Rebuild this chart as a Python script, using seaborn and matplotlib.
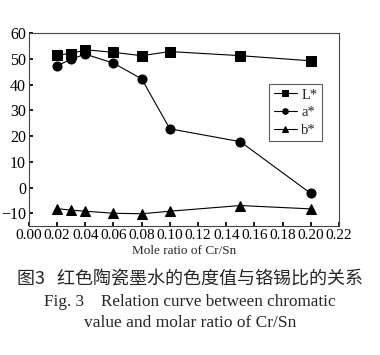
import numpy as np
import pandas as pd
import matplotlib
matplotlib.use("Agg")
import matplotlib.pyplot as plt
from matplotlib.ticker import MultipleLocator
import seaborn as sns

sns.set_theme(style="white")
plt.rcParams["font.family"] = ["Liberation Serif", "Noto Sans CJK SC", "DejaVu Sans"]

ratio = [0.02, 0.03, 0.04, 0.06, 0.08, 0.10, 0.15, 0.20]
L_star = [51.5, 52.0, 53.5, 52.5, 51.2, 52.8, 51.2, 49.2]
a_star = [47.3, 49.8, 51.8, 48.3, 42.2, 22.8, 17.8, -2.3]
b_star = [-8.2, -8.8, -9.2, -10.0, -10.2, -9.2, -7.0, -8.3]

df = pd.DataFrame({"ratio": ratio, "L*": L_star, "a*": a_star, "b*": b_star})
long_df = df.melt(id_vars="ratio", var_name="param", value_name="value")

fig = plt.figure(figsize=(3.8, 3.55), dpi=100)
ax = fig.add_axes([0.076, 0.363, 0.816, 0.544])

sns.lineplot(data=long_df, x="ratio", y="value", style="param",
             markers={"L*": "s", "a*": "o", "b*": "^"}, dashes=False,
             color="black", linewidth=0.8, markersize=6.5,
             markeredgecolor="black", ax=ax)

ax.set_xlim(0, 0.22)
ax.set_ylim(-15, 60)
ax.xaxis.set_major_locator(MultipleLocator(0.02))
ax.yaxis.set_major_locator(MultipleLocator(10))
ax.yaxis.set_minor_locator(MultipleLocator(5))
ax.xaxis.set_minor_locator(MultipleLocator(0.01))
ax.set_xticklabels([f"{v:.2f}" for v in ax.get_xticks()])
ax.tick_params(axis="both", which="major", direction="in", length=3,
               pad=2, colors="black")
ax.tick_params(axis="x", labelsize=11)
ax.tick_params(axis="y", labelsize=11.5)
ax.tick_params(axis="both", which="minor", direction="in", length=1.5)
ax.tick_params(axis="x", bottom=True)
ax.tick_params(axis="y", left=True)
for s in ax.spines.values():
    s.set_color("#444444")
    s.set_linewidth(0.8)
ax.set_xlabel("Mole ratio of Cr/Sn", fontsize=9.5, labelpad=2)
ax.set_ylabel("")

leg = ax.legend(loc="upper left", bbox_to_anchor=(0.775, 0.736), fontsize=10.5,
                frameon=True, fancybox=False, edgecolor="#333333",
                handlelength=1.6, handletextpad=0.3, borderpad=0.3,
                labelspacing=0.3, borderaxespad=0)
leg.get_frame().set_linewidth(0.8)
for h in leg.legend_handles:
    h.set_markersize(4)

fig.text(0.5, 1 - 280 / 355, "图3   红色陶瓷墨水的色度值与铬锡比的关系",
         ha="center", va="center", fontsize=13,
         family=["Noto Sans CJK SC", "DejaVu Sans"])
fig.text(0.5, 1 - 302 / 355, "Fig. 3    Relation curve between chromatic",
         ha="center", va="center", fontsize=12.3)
fig.text(0.5, 1 - 323 / 355, "value and molar ratio of Cr/Sn",
         ha="center", va="center", fontsize=12.5)

fig.savefig("out.png", dpi=100, facecolor="white")
